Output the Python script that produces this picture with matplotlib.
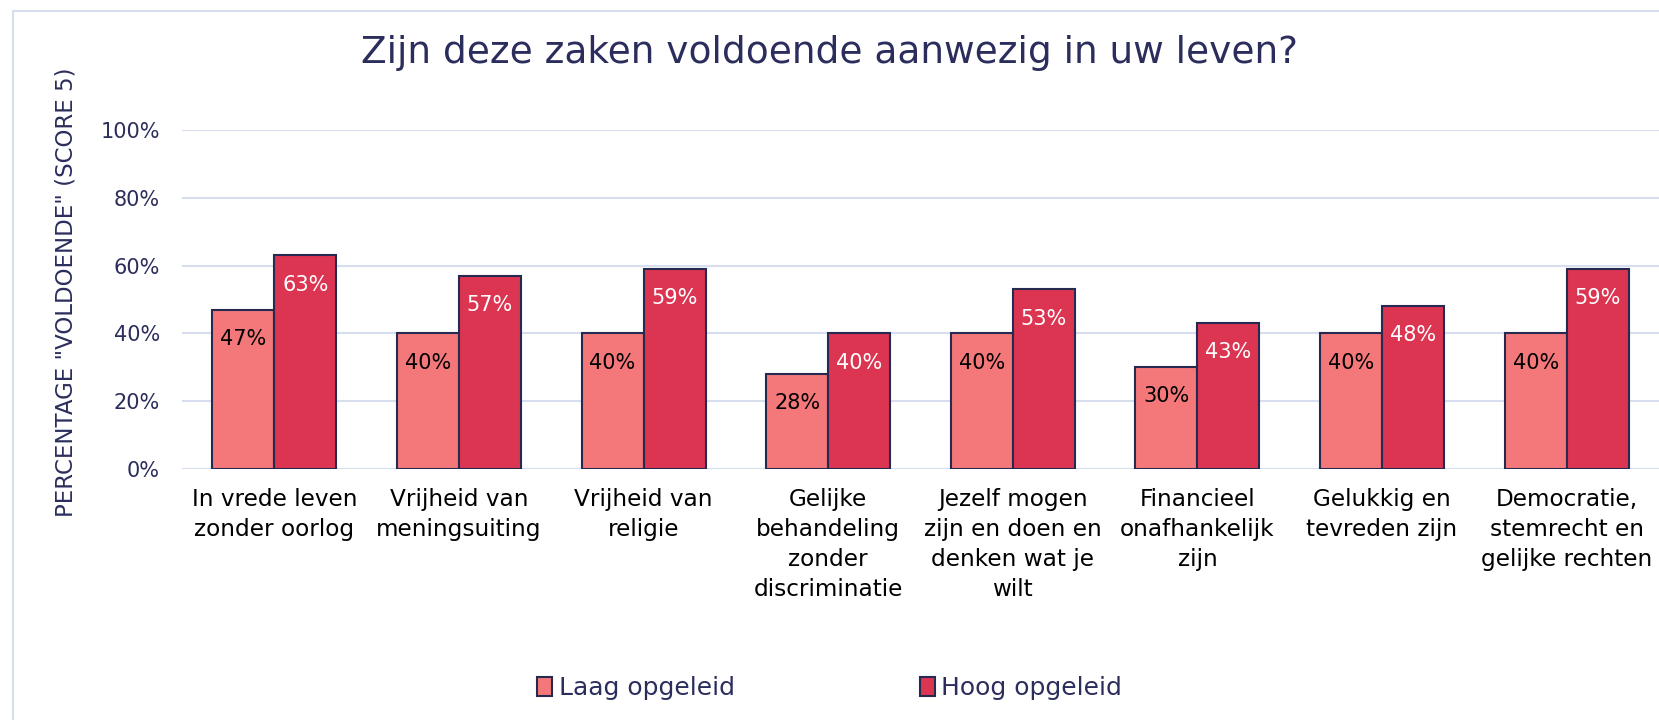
import numpy as np
import matplotlib.pyplot as plt
from matplotlib.patches import Rectangle

# Categories and percentages
categories = [
    "In vrede leven\nzonder oorlog",
    "Vrijheid van\nmeningsuiting",
    "Vrijheid van\nreligie",
    "Gelijke\nbehandeling\nzonder\ndiscriminatie",
    "Jezelf mogen\nzijn en doen en\ndenken wat je\nwilt",
    "Financieel\nonafhankelijk\nzijn",
    "Gelukkig en\ntevreden zijn",
    "Democratie,\nstemrecht en\ngelijke rechten",
]
laag = [47, 40, 40, 28, 40, 30, 40, 40]
hoog = [63, 57, 59, 40, 53, 43, 48, 59]
series_names = ["Laag opgeleid", "Hoog opgeleid"]
yticks = [0, 20, 40, 60, 80, 100]

navy = "#2B2E5C"
edge = "#262A50"
grid = "#D6DEF0"
col_laag = "#F4787A"
col_hoog = "#DC3552"

plt.rcParams['font.family'] = ['DejaVu Sans']

fig = plt.figure(figsize=(16.59, 7.2), dpi=100)
ax = fig.add_axes([0.1097, 0.3486, 1 - 0.1097, 0.8194 - 0.3486])

# outer chart border (cropped at right and bottom in the reference)
fig.patches.append(Rectangle((13 / 1659, -0.1), 1.2, 1 - 10.5 / 720 + 0.1,
                             transform=fig.transFigure, fill=False,
                             edgecolor=grid, linewidth=1.5))

x = np.arange(len(categories))
w = 0.336
b1 = ax.bar(x - w / 2, laag, w, color=col_laag, edgecolor=edge, linewidth=1.5,
            label=series_names[0], zorder=3)
b2 = ax.bar(x + w / 2, hoog, w, color=col_hoog, edgecolor=edge, linewidth=1.5,
            label=series_names[1], zorder=3)

for bars, vals, c in [(b1, laag, "black"), (b2, hoog, "white")]:
    for r, v in zip(bars, vals):
        ax.annotate(f"{v}%", (r.get_x() + r.get_width() / 2, v),
                    xytext=(0, -21), textcoords="offset points",
                    ha="center", va="center", color=c, fontsize=15, zorder=4)

ax.set_xlim(-0.5, len(categories) - 0.5)
ax.set_ylim(0, 100)
ax.set_yticks(yticks)
ax.set_yticklabels([f"{t}%" for t in yticks])
ax.set_xticks(x)
ax.set_xticklabels(categories, linespacing=1.38)
ax.tick_params(axis="y", length=0, pad=16, labelsize=15, labelcolor=navy)
ax.tick_params(axis="x", length=0, pad=14, labelsize=16.7, labelcolor="black")
for t in ax.get_xticklabels():
    t.set_va("top")
ax.grid(axis="y", color=grid, linewidth=1.5, zorder=0)
for s in ax.spines.values():
    s.set_visible(False)

fig.text(66 / 1659, 1 - 292 / 720, 'PERCENTAGE "VOLDOENDE" (SCORE 5)',
         rotation=90, ha="center", va="center", color=navy, fontsize=16.5)
fig.text(0.5, 1 - 53 / 720, "Zijn deze zaken voldoende aanwezig in uw leven?",
         ha="center", va="center", color=navy, fontsize=27)

fig.legend(handles=[b1, b2], labels=series_names, loc="center",
           bbox_to_anchor=(0.5, 1 - 688 / 720), ncol=2, frameon=False,
           fontsize=18, labelcolor=navy, handlelength=0.6, handleheight=0.8,
           handletextpad=0.25, columnspacing=7.4)

fig.savefig("out.png", dpi=100)
